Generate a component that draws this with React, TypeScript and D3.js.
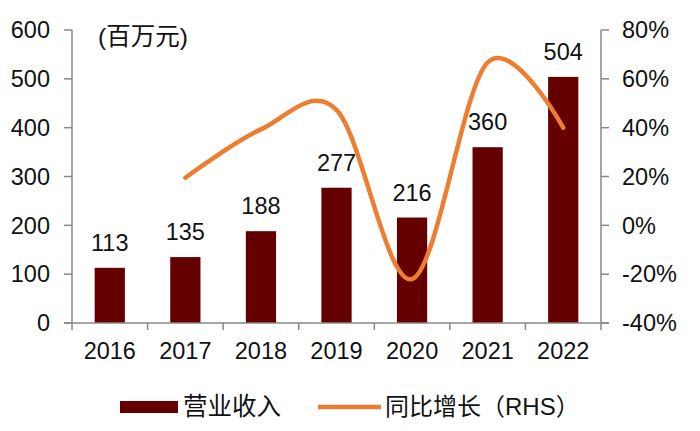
import React from "react";
import * as d3 from "d3";

const years = ["2016", "2017", "2018", "2019", "2020", "2021", "2022"];
const revenue = [113, 135, 188, 277, 216, 360, 504];
const growthYears = ["2017", "2018", "2019", "2020", "2021", "2022"];
const growth = [19.5, 39.3, 47.3, -22.0, 66.7, 40.0];
const leftTicks = [0, 100, 200, 300, 400, 500, 600];
const rightTicks = [-40, -20, 0, 20, 40, 60, 80];

const W = 700;
const H = 431;
const left = 72;
const right = 601;
const top = 30;
const bottom = 323;

const BAR = "#640000";
const LINE = "#ED7D31";
const AXIS = "#888888";
const FONT = '"Liberation Sans", Arial, "Noto Sans CJK SC", sans-serif';

const App = () => {
  const x = d3.scaleBand<string>()
    .domain(years)
    .range([left, right])
    .paddingInner(0.6)
    .paddingOuter(0.3);
  const step = x.step();

  const yL = d3.scaleLinear().domain([0, 600]).range([bottom, top]);
  const yR = d3.scaleLinear().domain([-40, 80]).range([bottom, top]);

  const cx = (yr: string) => x(yr)! + x.bandwidth() / 2;

  // year boundaries for the category ticks
  const bounds = years.map(yr => x(yr)! - step * 0.3).concat([right]);

  const linePath = d3.line<number>()
    .x((_, i) => cx(growthYears[i]))
    .y(d => yR(d))
    .curve(d3.curveCardinal.tension(0))(growth);

  return (
    <div style={{ position: "absolute", left: 0, top: 0 }}>
      <svg width={W} height={H} style={{ display: "block", fontFamily: FONT }}>
        <rect width={W} height={H} fill="#fff" />

        {/* bars */}
        {revenue.map((v, i) => (
          <rect key={years[i]} x={x(years[i])} y={yL(v)} width={x.bandwidth()}
            height={bottom - yL(v)} fill={BAR} />
        ))}

        {/* value labels */}
        {revenue.map((v, i) => (
          <text key={"v" + i} x={cx(years[i])} y={yL(v) - 17} textAnchor="middle"
            fontSize={23.5} fill="#111">{v}</text>
        ))}

        {/* growth line */}
        <path d={linePath!} fill="none" stroke={LINE} strokeWidth={4.5} strokeLinecap="round" />

        {/* left axis */}
        <line x1={left} x2={left} y1={top} y2={bottom} stroke={AXIS} strokeWidth={1.5} />
        {leftTicks.map(t => (
          <g key={"l" + t}>
            <line x1={left - 8} x2={left} y1={yL(t)} y2={yL(t)} stroke={AXIS} strokeWidth={1.5} />
            <text x={50} y={yL(t)} dy="0.35em" textAnchor="end" fontSize={23.5} fill="#111">{t}</text>
          </g>
        ))}

        {/* right axis */}
        <line x1={right} x2={right} y1={top} y2={bottom} stroke={AXIS} strokeWidth={1.5} />
        {rightTicks.map(t => (
          <g key={"r" + t}>
            <line x1={right} x2={right + 8} y1={yR(t)} y2={yR(t)} stroke={AXIS} strokeWidth={1.5} />
            <text x={622} y={yR(t)} dy="0.35em" textAnchor="start" fontSize={23.5} fill="#111">{t}%</text>
          </g>
        ))}

        {/* bottom axis */}
        <line x1={left - 8} x2={right + 8} y1={bottom} y2={bottom} stroke={AXIS} strokeWidth={1.5} />
        {bounds.map((b, i) => (
          <line key={"b" + i} x1={b} x2={b} y1={bottom} y2={bottom + 7} stroke={AXIS} strokeWidth={1.5} />
        ))}
        {years.map(yr => (
          <text key={"y" + yr} x={cx(yr)} y={359} textAnchor="middle" fontSize={23.5} fill="#111">{yr}</text>
        ))}

        {/* unit */}
        <text x={98} y={45} fontSize={24.5} fill="#111">(百万元)</text>

        {/* legend */}
        <rect x={120} y={401} width={58} height={12} fill={BAR} />
        <text x={183} y={415} fontSize={24.5} fill="#111">营业收入</text>
        <line x1={318} x2={381} y1={407} y2={407} stroke={LINE} strokeWidth={4.5} />
        <text x={385} y={415} fontSize={24} fill="#111">同比增长（RHS）</text>
      </svg>
    </div>
  );
};

export default App;
